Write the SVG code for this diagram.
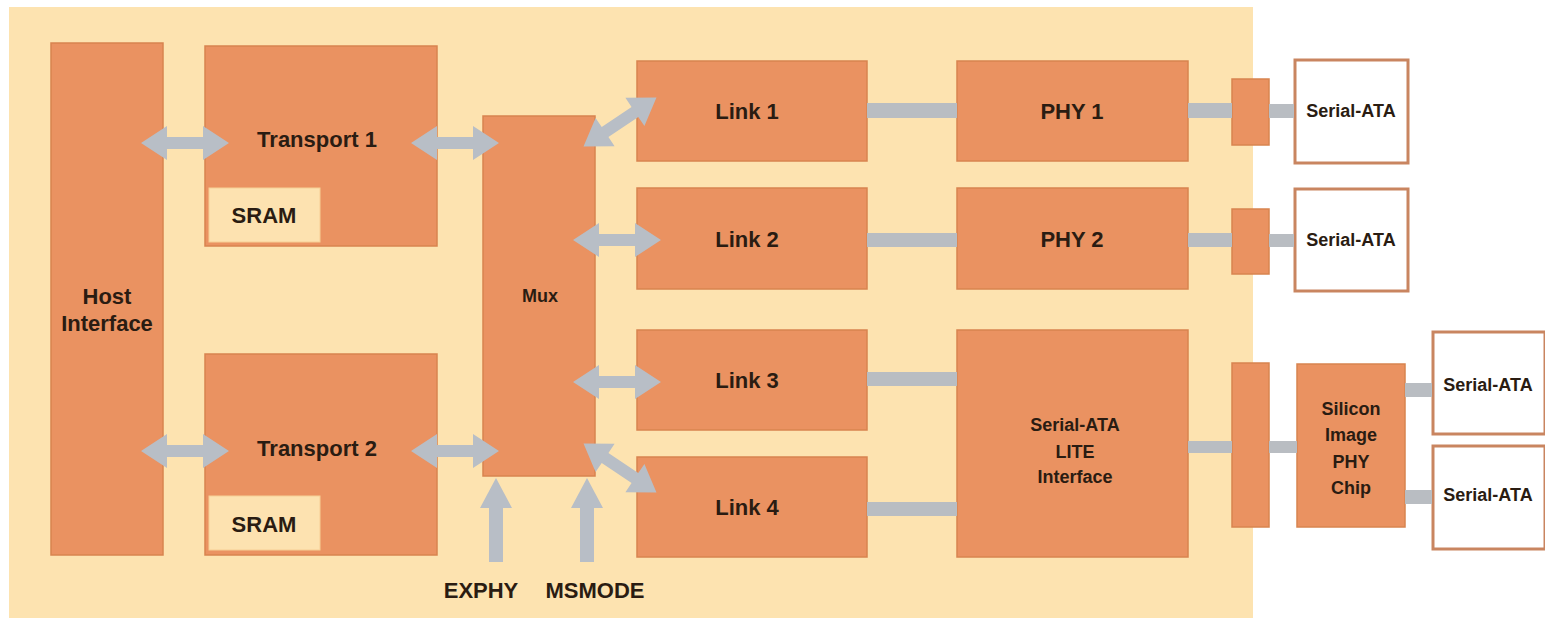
<svg xmlns="http://www.w3.org/2000/svg" width="1545" height="618" viewBox="0 0 1545 618">
<style>
.blk{fill:#EA9261;stroke:#D8844F;stroke-width:1.5}
.mem{fill:#FDE2B0;stroke:#F6CF95;stroke-width:1}
.ext{fill:#FFFFFF;stroke:#C98560;stroke-width:3}
.t{font-family:"Liberation Sans",Arial,sans-serif;font-weight:bold;font-size:22px;fill:#2A1C12;text-anchor:middle}
.ts{font-family:"Liberation Sans",Arial,sans-serif;font-weight:bold;font-size:18px;fill:#2A1C12;text-anchor:middle}
.bar{fill:#B9BDC2}
.arr{fill:#B8BEC6}
</style>
<defs>
<path id="darr" d="M-44,0 L-18,-17 L-18,-6 L18,-6 L18,-17 L44,0 L18,17 L18,6 L-18,6 L-18,17 Z"/>
<path id="uarr" d="M0,0 L16,30 L7,30 L7,84 L-7,84 L-7,30 L-16,30 Z"/>
</defs>
<rect x="0" y="0" width="1545" height="618" fill="#FFFFFF"/>
<rect id="board" x="9" y="7" width="1244" height="611" fill="#FDE3B0"/>

<g id="host"><rect class="blk" x="51" y="43" width="112" height="512"/>
<text class="t" x="107" y="304">Host</text><text class="t" x="107" y="331">Interface</text></g>

<g id="transport1"><rect class="blk" x="205" y="46" width="232" height="200"/>
<text class="t" x="317" y="147">Transport 1</text></g>
<g id="sram1"><rect class="mem" x="209" y="188" width="111" height="54"/>
<text class="t" x="264" y="223">SRAM</text></g>

<g id="transport2"><rect class="blk" x="205" y="354" width="232" height="201"/>
<text class="t" x="317" y="456">Transport 2</text></g>
<g id="sram2"><rect class="mem" x="209" y="496" width="111" height="54"/>
<text class="t" x="264" y="532">SRAM</text></g>

<g id="mux"><rect class="blk" x="483" y="116" width="112" height="360"/>
<text class="ts" x="540" y="302">Mux</text></g>

<g id="link1"><rect class="blk" x="637" y="61" width="230" height="100"/>
<text class="t" x="747" y="119">Link 1</text></g>
<g id="link2"><rect class="blk" x="637" y="188" width="230" height="101"/>
<text class="t" x="747" y="247">Link 2</text></g>
<g id="link3"><rect class="blk" x="637" y="330" width="230" height="100"/>
<text class="t" x="747" y="388">Link 3</text></g>
<g id="link4"><rect class="blk" x="637" y="457" width="230" height="100"/>
<text class="t" x="747" y="515">Link 4</text></g>

<g id="phy1"><rect class="blk" x="957" y="61" width="231" height="100"/>
<text class="t" x="1072" y="119">PHY 1</text></g>
<g id="phy2"><rect class="blk" x="957" y="188" width="231" height="101"/>
<text class="t" x="1072" y="247">PHY 2</text></g>
<g id="satalite"><rect class="blk" x="957" y="330" width="231" height="227"/>
<text class="ts" x="1075" y="431">Serial-ATA</text>
<text class="ts" x="1075" y="458">LITE</text>
<text class="ts" x="1075" y="483">Interface</text></g>

<g id="port1"><rect class="blk" x="1232" y="79" width="37" height="66"/></g>
<g id="port2"><rect class="blk" x="1232" y="209" width="37" height="65"/></g>
<g id="port3"><rect class="blk" x="1232" y="363" width="37" height="164"/></g>

<g id="sata1"><rect class="ext" x="1295" y="60" width="113" height="103"/>
<text class="ts" x="1351" y="117">Serial-ATA</text></g>
<g id="sata2"><rect class="ext" x="1295" y="189" width="113" height="102"/>
<text class="ts" x="1351" y="246">Serial-ATA</text></g>

<g id="siphy"><rect class="blk" x="1297" y="364" width="108" height="163"/>
<text class="ts" x="1351" y="415">Silicon</text>
<text class="ts" x="1351" y="441">Image</text>
<text class="ts" x="1351" y="468">PHY</text>
<text class="ts" x="1351" y="494">Chip</text></g>

<g id="sata3"><rect class="ext" x="1433" y="332" width="112" height="102"/>
<text class="ts" x="1488" y="391">Serial-ATA</text></g>
<g id="sata4"><rect class="ext" x="1433" y="446" width="112" height="103"/>
<text class="ts" x="1488" y="501">Serial-ATA</text></g>

<g id="labels">
<text class="t" x="481" y="598">EXPHY</text>
<text class="t" x="595" y="598">MSMODE</text>
</g>

<g id="connectors">
<rect class="bar" x="867" y="103" width="90" height="15"/>
<rect class="bar" x="1188" y="103" width="44" height="15"/>
<rect class="bar" x="1269" y="104" width="25" height="14"/>
<rect class="bar" x="867" y="233" width="90" height="14"/>
<rect class="bar" x="1188" y="233" width="44" height="14"/>
<rect class="bar" x="1269" y="234" width="25" height="13"/>
<rect class="bar" x="867" y="372" width="90" height="14"/>
<rect class="bar" x="867" y="502" width="90" height="14"/>
<rect class="bar" x="1188" y="441" width="44" height="12"/>
<rect class="bar" x="1269" y="441" width="28" height="12"/>
<rect class="bar" x="1405" y="383" width="27" height="14"/>
<rect class="bar" x="1405" y="490" width="27" height="14"/>
<use href="#darr" class="arr" transform="translate(185,143)"/>
<use href="#darr" class="arr" transform="translate(455,143)"/>
<use href="#darr" class="arr" transform="translate(185,451)"/>
<use href="#darr" class="arr" transform="translate(455,451)"/>
<use href="#darr" class="arr" transform="translate(620,122) rotate(-34)"/>
<use href="#darr" class="arr" transform="translate(617,240)"/>
<use href="#darr" class="arr" transform="translate(617,382)"/>
<use href="#darr" class="arr" transform="translate(620,468) rotate(34)"/>
<use href="#uarr" class="arr" transform="translate(496,478)"/>
<use href="#uarr" class="arr" transform="translate(587,478)"/>
</g>
</svg>
